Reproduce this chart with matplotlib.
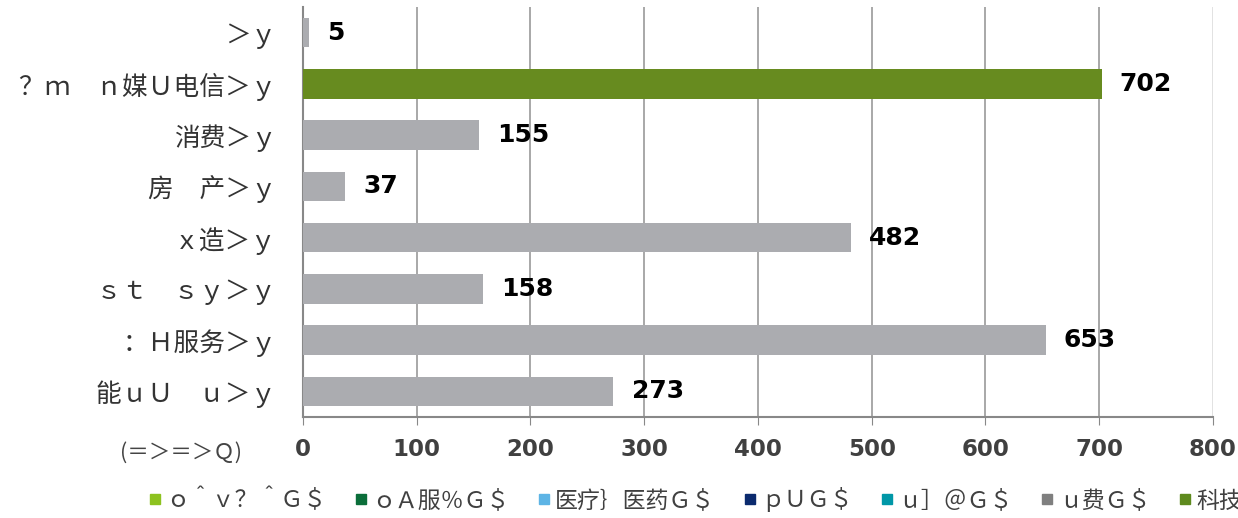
import matplotlib
matplotlib.use("Agg")
import matplotlib.pyplot as plt
from matplotlib.lines import Line2D

plt.rcParams['font.family'] = ['Noto Sans CJK SC', 'DejaVu Sans']

#---------------Data---------------

categories = ['＞ｙ', '？ｍ　ｎ媒Ｕ电信＞ｙ', '消费＞ｙ', '房　产＞ｙ',
              'ｘ造＞ｙ', 'ｓｔ　ｓｙ＞ｙ', '：Ｈ服务＞ｙ', '能ｕＵ　ｕ＞ｙ']
values = [5, 702, 155, 37, 482, 158, 653, 273]
highlight = [False, True, False, False, False, False, False, False]

legend_labels = ['ｏ＾ｖ？＾Ｇ＄', 'ｏＡ服％Ｇ＄', '医疗｝医药Ｇ＄', 'ｐＵＧ＄',
                 'ｕ］＠Ｇ＄', 'ｕ费Ｇ＄', '科技Ｇ＄']
legend_colors = ['#8DC21F', '#0B6E3A', '#5DB4E5', '#0B2A6E',
                 '#0097A7', '#7F7F7F', '#5E8A1E']

xticks = [0, 100, 200, 300, 400, 500, 600, 700, 800]

#---------------Plot---------------

fig = plt.figure(figsize=(12.38, 5.18), dpi=100)
ax = fig.add_axes([0.2447, 0.195, 0.7351, 0.7915])

ypos = list(range(len(categories)))
colors = ['#678B1F' if h else '#ABACB0' for h in highlight]
ax.barh(ypos, values, height=0.58, color=colors, zorder=3)

for y, v in zip(ypos, values):
    ax.annotate(str(v), (v, y), xytext=(13, 0), textcoords='offset points',
                va='center', ha='left', fontsize=18, fontweight='bold',
                color='black', family='DejaVu Sans')

ax.set_ylim(len(categories) - 0.5, -0.5)
ax.set_xlim(0, 800)
ax.set_yticks(ypos)
ax.set_yticklabels(categories, fontsize=18.5, color='#333333')
ax.set_xticks(xticks)
ax.set_xticklabels([str(t) for t in xticks], fontsize=16.5, fontweight='bold',
                   color='#404040', family='DejaVu Sans')

ax.tick_params(axis='y', length=0, pad=19)
ax.tick_params(axis='x', length=6, color='#888888', pad=9, direction='out')

ax.grid(axis='x', color='#999999', linewidth=1.2, zorder=0)
gl = ax.get_xgridlines()
gl[-1].set_color('#dddddd')
for s in ['top', 'right']:
    ax.spines[s].set_visible(False)
ax.spines['left'].set_color('#888888')
ax.spines['left'].set_linewidth(1.5)
ax.spines['bottom'].set_color('#888888')
ax.spines['bottom'].set_linewidth(1.5)

fig.text(0.097, 0.125, '(＝＞＝＞Ｑ)', fontsize=15.5, color='#444444',
         ha='left', va='center')

# legend runs past the right edge, as in the original
handles = [Line2D([], [], marker='s', linestyle='none', markersize=7,
                  markerfacecolor=c, markeredgecolor=c) for c in legend_colors]
fig.legend(handles, legend_labels, loc='center left', ncol=7,
           bbox_to_anchor=(0.101, 0.035), frameon=False, fontsize=16.5,
           labelcolor='#404040', handletextpad=0.1, columnspacing=1.1,
           handlelength=0.8)

fig.savefig('out.png', dpi=100)
